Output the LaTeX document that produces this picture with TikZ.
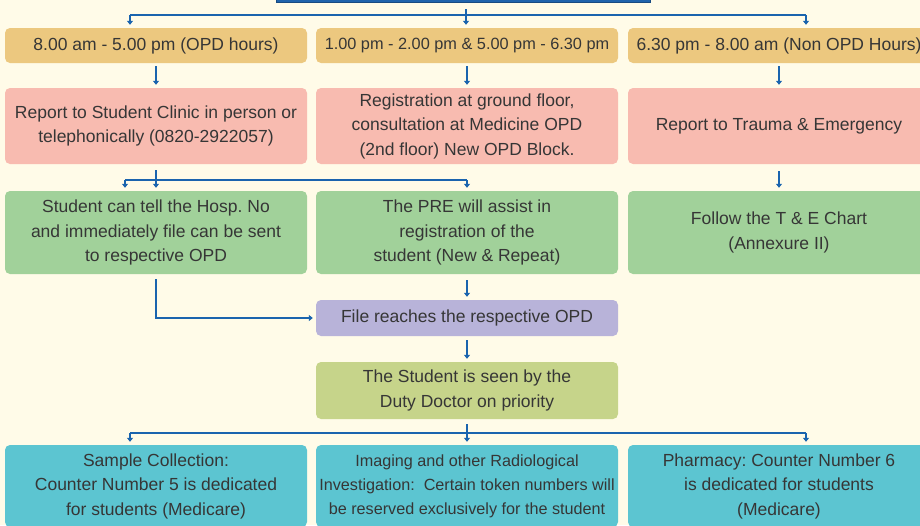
\documentclass[tikz,border=0pt]{standalone}
\usepackage{fontspec}
\setmainfont{Liberation Sans}
\usetikzlibrary{arrows.meta,calc}
\definecolor{bgc}{HTML}{FFFBE8}
\definecolor{yel}{HTML}{ECC87F}
\definecolor{sal}{HTML}{F8BBB0}
\definecolor{grn}{HTML}{A1D19A}
\definecolor{pur}{HTML}{B8B3D9}
\definecolor{oli}{HTML}{C6D48A}
\definecolor{cya}{HTML}{5CC5D1}
\definecolor{arrc}{HTML}{1A64AE}
\definecolor{topb}{HTML}{1F63AC}
\definecolor{txt}{HTML}{363636}
\frenchspacing
\tikzset{
  box/.style={rectangle, rounded corners=5pt, inner sep=0pt, minimum width=302pt,
    align=center, text=txt, font=\fontsize{17.5}{24.5}\selectfont},
  line/.style={draw=arrc, line width=1.6pt},
  arr/.style={line, -{Triangle[length=4pt,width=6pt]}, shorten >=3pt},
}
\begin{document}
\begin{tikzpicture}[x=1pt,y=-1pt]
\useasboundingbox (0,0) rectangle (920,525);
\clip (0,0) rectangle (920,525);
\fill[bgc] (0,0) rectangle (920,525);

\node[rectangle, fill=topb, draw=topb!75!black, line width=1pt, minimum width=374pt, minimum height=40pt, anchor=south, inner sep=0pt] (top) at (463,3) {};

% row 1
\node[box, fill=yel, minimum height=35pt] (r1a) at (156,45.5) {8.00 am - 5.00 pm (OPD hours)};
\node[box, fill=yel, minimum height=35pt, font=\fontsize{16.3}{22}\selectfont] (r1b) at (467,45.5) {1.00 pm - 2.00 pm \& 5.00 pm - 6.30 pm};
\node[box, fill=yel, minimum height=35pt] (r1c) at (779,45.5) {6.30 pm - 8.00 am (Non OPD Hours)};

% row 2
\node[box, fill=sal, minimum height=76pt] (r2a) at (156,126) {Report to Student Clinic in person or\\telephonically (0820-2922057)};
\node[box, fill=sal, minimum height=76pt] (r2b) at (467,126) {Registration at ground floor,\\consultation at Medicine OPD\\(2nd floor) New OPD Block.};
\node[box, fill=sal, minimum height=76pt] (r2c) at (779,126) {Report to Trauma \& Emergency};

% row 3
\node[box, fill=grn, minimum height=83pt] (r3a) at (156,232.5) {Student can tell the Hosp. No\\and immediately file can be sent\\to respective OPD};
\node[box, fill=grn, minimum height=83pt] (r3b) at (467,232.5) {The PRE will assist in\\registration of the\\student (New \& Repeat)};
\node[box, fill=grn, minimum height=83pt] (r3c) at (779,232.5) {Follow the T \& E Chart\\(Annexure II)};

% middle
\node[box, fill=pur, minimum height=36pt] (pu) at (467,318) {File reaches the respective OPD};
\node[box, fill=oli, minimum height=57pt] (ol) at (467,390.5) {The Student is seen by the\\Duty Doctor on priority};

% bottom
\node[box, fill=cya, minimum height=82pt] (b1) at (156,486) {Sample Collection:\\Counter Number 5 is dedicated\\for students (Medicare)};
\node[box, fill=cya, minimum height=82pt, font=\fontsize{16.2}{24}\selectfont] (b2) at (467,486) {Imaging and other Radiological\\Investigation:\ \ Certain token numbers will\\be reserved exclusively for the student};
\node[box, fill=cya, minimum height=82pt] (b3) at (779,486) {Pharmacy: Counter Number 6\\is dedicated for students\\(Medicare)};

% connectors: top -> row 1
\coordinate (h1) at (466,15);
\coordinate (h1l) at (130,15);
\coordinate (h1r) at (806,15);
\draw[line] (h1l) -- (h1r);
\draw[arr] ([yshift=-6pt]top.south -| h1) -- (h1 |- r1b.north);
\draw[arr] (h1l) -- (h1l |- r1a.north);
\draw[arr] (h1r) -- (h1r |- r1c.north);

% row 1 -> row 2
\draw[arr, shorten <=3pt] (r1a.south) -- (r2a.north);
\draw[arr, shorten <=3pt] (r1b.south) -- (r2b.north);
\draw[arr, shorten <=3pt] (r1c.south) -- (r2c.north);

% row 2 -> row 3
\draw[arr, shorten <=6pt] (r2a.south) -- (r3a.north);
\coordinate (h2l) at (125,180);
\coordinate (h2r) at (467,180);
\draw[line] (h2l) -- (h2r);
\draw[arr] (h2l) -- (h2l |- r3a.north);
\draw[arr] (h2r) -- (r3b.north);
\draw[arr, shorten <=7pt] (r2c.south) -- (r3c.north);

% row 3 -> file
\draw[arr, shorten <=5pt] (r3a.south) |- (pu.west);
\draw[arr, shorten <=6pt] (r3b.south) -- (pu.north);
\draw[arr, shorten <=4pt] (pu.south) -- (ol.north);

% olive -> bottom
\coordinate (h3) at (467,433);
\coordinate (h3l) at (130,433);
\coordinate (h3r) at (806,433);
\draw[line, shorten <=5pt] (ol.south) -- (h3);
\draw[line] (h3l) -- (h3r);
\draw[arr] (h3) -- (b2.north);
\draw[arr] (h3l) -- (h3l |- b1.north);
\draw[arr] (h3r) -- (h3r |- b3.north);
\end{tikzpicture}
\end{document}
